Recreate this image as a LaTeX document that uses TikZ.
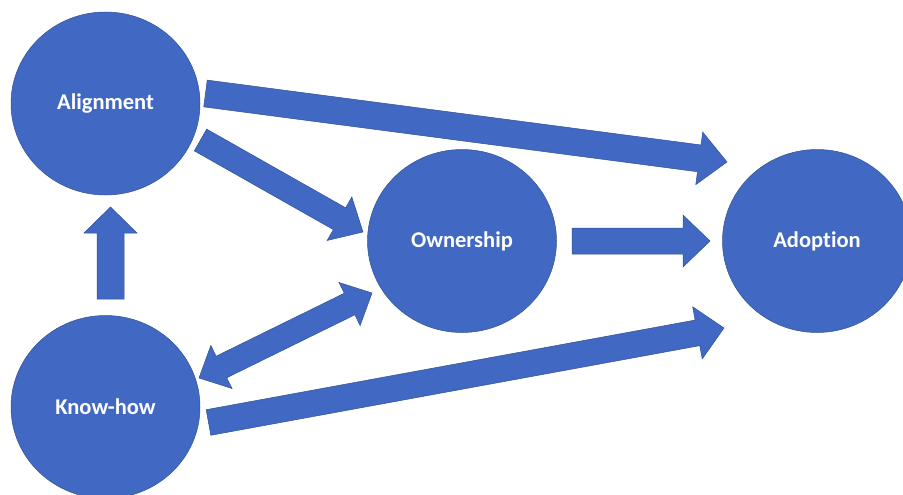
\documentclass[tikz,border=0pt]{standalone}
\usepackage{fontspec}
\setmainfont{Carlito}[Ligatures=NoCommon]
\usetikzlibrary{calc,shapes.geometric}

\definecolor{bubble}{HTML}{4169C4}
\definecolor{rim}{HTML}{2F528F}

\tikzset{
  bubble/.style={ellipse, fill=bubble, draw=rim, line width=0.5pt,
    minimum width=189pt, minimum height=183pt, inner sep=0pt,
    text=white, font=\bfseries\fontsize{22.5}{26}\selectfont},
  blockfill/.style={fill=bubble, draw=rim, line width=0.5pt, line join=miter}
}

% single-headed block arrow: tail, tip, half shaft, half head, head length
\newcommand\blockarrow[5]{%
  \coordinate (hb) at ($(#2)!#5!(#1)$);
  \path[blockfill]
    ($(#1)!#3!90:(#2)$) -- ($(hb)!#3!-90:(#1)$) -- ($(hb)!#4!-90:(#1)$) --
    (#2) --
    ($(hb)!#4!90:(#1)$) -- ($(hb)!#3!90:(#1)$) -- ($(#1)!#3!-90:(#2)$) -- cycle;
}
% double-headed block arrow: end, end, half shaft, half head, head length
\newcommand\twinarrow[5]{%
  \coordinate (ha) at ($(#1)!#5!(#2)$);
  \coordinate (hb) at ($(#2)!#5!(#1)$);
  \path[blockfill]
    (#1) -- ($(ha)!#4!90:(#2)$) -- ($(ha)!#3!90:(#2)$) --
    ($(hb)!#3!-90:(#1)$) -- ($(hb)!#4!-90:(#1)$) --
    (#2) --
    ($(hb)!#4!90:(#1)$) -- ($(hb)!#3!90:(#1)$) --
    ($(ha)!#3!-90:(#2)$) -- ($(ha)!#4!-90:(#2)$) -- cycle;
}

\begin{document}
\begin{tikzpicture}[x=1pt, y=-1pt]
  \useasboundingbox (0,0) rectangle (903,495);

  \node[bubble] (al) at (105.5,103.5) {Alignment};
  \node[bubble] (kh) at (105.5,407) {Know-how};
  \node[bubble] (ow) at (462,241) {Ownership};
  \node[bubble] (ad) at (817,241) {Adoption};

  % arrow end points around the bubbles
  \coordinate (alR)  at ($(al.center)+(100,-10)$);
  \coordinate (adTL) at ($(ad.center)+(-90,-79)$);
  \coordinate (alLR) at ($(al.center)+(95,36.5)$);
  \coordinate (owL)  at ($(ow.center)+(-99,-9)$);
  \coordinate (owR)  at ($(ow.center)+(110,0)$);
  \coordinate (adL)  at ($(ad.center)+(-107,0)$);
  \coordinate (khR)  at ($(kh.center)+(103,15.5)$);
  \coordinate (adBL) at ($(ad.center)+(-93,87)$);
  \coordinate (owBL) at ($(ow.center)+(-90,52)$);
  \coordinate (khUR) at ($(kh.center)+(93.5,-29)$);
  \coordinate (khT)  at ($(kh.center)+(5,-108)$);
  \coordinate (alB)  at ($(al.center)+(5,103.5)$);

  \blockarrow{alR}{adTL}{13.5pt}{26.5pt}{28pt}
  \blockarrow{alLR}{owL}{12.5pt}{25pt}{27pt}
  \blockarrow{owR}{adL}{13pt}{26pt}{27pt}
  \blockarrow{khR}{adBL}{13pt}{26.5pt}{27pt}
  \blockarrow{khT}{alB}{13.5pt}{26.5pt}{26pt}
  \twinarrow{khUR}{owBL}{12pt}{24pt}{25pt}
\end{tikzpicture}
\end{document}
